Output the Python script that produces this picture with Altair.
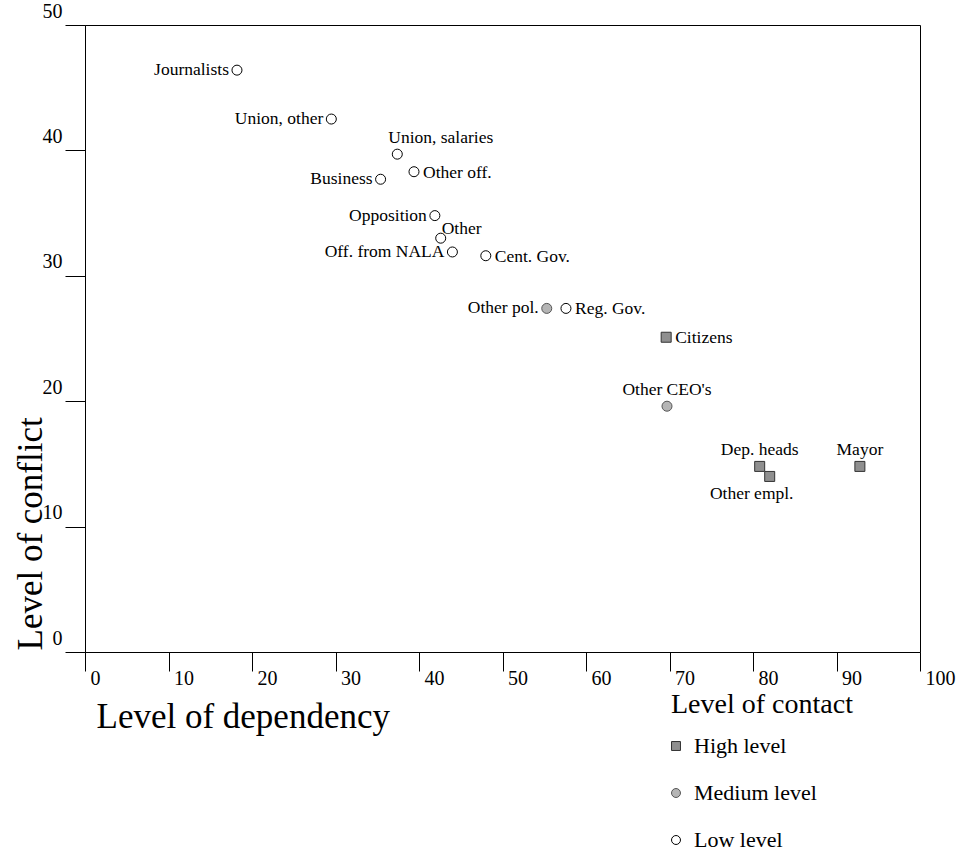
import altair as alt
import pandas as pd

names = ["Journalists", "Union, other", "Union, salaries", "Other off.", "Business",
         "Opposition", "Other", "Off. from NALA", "Cent. Gov.", "Other pol.",
         "Reg. Gov.", "Citizens", "Other CEO's", "Dep. heads", "Other empl.", "Mayor"]
dependency = [18.2, 29.5, 37.4, 39.4, 35.4, 41.9, 42.6, 44.0, 48.0, 55.3,
              57.6, 69.6, 69.7, 80.8, 82.0, 92.8]
conflict = [46.4, 42.5, 39.7, 38.3, 37.7, 34.8, 33.0, 31.9, 31.6, 27.4,
            27.4, 25.1, 19.6, 14.8, 14.0, 14.8]
contact = ["Low level", "Low level", "Low level", "Low level", "Low level",
           "Low level", "Low level", "Low level", "Low level", "Medium level",
           "Low level", "High level", "Medium level", "High level", "High level", "High level"]
label_side = ["left", "left", "above_start", "right", "left",
              "left", "upright", "left", "right", "left",
              "right", "right", "above", "above", "below", "above"]

levels = ["High level", "Medium level", "Low level"]
x_ticks = [0, 10, 20, 30, 40, 50, 60, 70, 80, 90, 100]
y_ticks = [0, 10, 20, 30, 40, 50]

df = pd.DataFrame({"name": names, "dep": dependency, "conf": conflict,
                   "contact": contact, "side": label_side})

FONT = "Liberation Serif"

x_enc = alt.X("dep:Q", scale=alt.Scale(domain=[0, 100], nice=False, zero=False),
              axis=alt.Axis(values=x_ticks, title="Level of dependency", grid=False,
                            tickSize=19, labelPadding=-3, labelAlign="left", labelOffset=5,
                            labelBaseline="top", labelFontSize=20, labelFont=FONT,
                            labelFlush=False, labelOverlap=False,
                            titleFont=FONT, titleFontSize=35, titleFontWeight="normal",
                            titleAnchor="start", titleAlign="left", titleX=11, titleY=75,
                            titleBaseline="alphabetic", domainColor="black",
                            tickColor="black", labelColor="black", titleColor="black"))
y_enc = alt.Y("conf:Q", scale=alt.Scale(domain=[0, 50], nice=False, zero=False),
              axis=alt.Axis(values=y_ticks, title="Level of conflict", grid=False,
                            tickSize=20, labelPadding=3, labelAlign="right",
                            labelBaseline="alphabetic", labelOffset=-8, labelFontSize=20,
                            labelFlush=False, labelOverlap=False,
                            labelFont=FONT, titleFont=FONT, titleFontSize=35,
                            titleFontWeight="normal", titleAngle=270, titleAlign="left",
                            titleAnchor="start", titleX=-44, titleY=625,
                            titleBaseline="alphabetic", domainColor="black",
                            tickColor="black", labelColor="black", titleColor="black"))

legend = alt.Legend(orient="none", legendX=586, legendY=666, title="Level of contact",
                    titleFont=FONT, titleFontSize=28, titleFontWeight="normal",
                    titleColor="black", titlePadding=16, titleLimit=400,
                    labelFont=FONT, labelFontSize=22, labelColor="black", labelLimit=300,
                    symbolSize=80, rowPadding=25, labelOffset=7, symbolOffset=-6,
                    symbolStrokeWidth=1)

points = alt.Chart(df).mark_point(filled=True, opacity=1, strokeWidth=1, size=100).encode(
    x=x_enc,
    y=y_enc,
    shape=alt.Shape("contact:N", scale=alt.Scale(domain=levels, range=["square", "circle", "circle"]),
                    legend=legend),
    fill=alt.Fill("contact:N", scale=alt.Scale(domain=levels, range=["#8f8f8f", "#b5b5b5", "white"]),
                  legend=legend),
    stroke=alt.Stroke("contact:N", scale=alt.Scale(domain=levels, range=["#333333", "#555555", "black"]),
                      legend=legend),
)


def labels(side, align, baseline, dx, dy):
    return alt.Chart(df).transform_filter(alt.datum.side == side).mark_text(
        align=align, baseline=baseline, dx=dx, dy=dy, font=FONT, fontSize=17.5, color="black"
    ).encode(x="dep:Q", y="conf:Q", text="name:N")


layers = [
    points,
    labels("left", "right", "middle", -8, 0),
    labels("right", "left", "middle", 9, 1),
    labels("above", "center", "alphabetic", 0, -11),
    labels("above_start", "left", "alphabetic", -9, -11),
    labels("upright", "left", "alphabetic", 1, -4),
    labels("below", "center", "top", -18, 9),
]

chart = alt.layer(*layers).properties(
    width=835, height=627,
    autosize=alt.AutoSizeParams(type="none"),
    padding={"left": 85, "top": 25, "right": 37, "bottom": 200},
    background="white",
).configure_view(stroke="black", strokeWidth=1)

chart.save("out.html", embed_options={"renderer": "svg", "actions": False})
